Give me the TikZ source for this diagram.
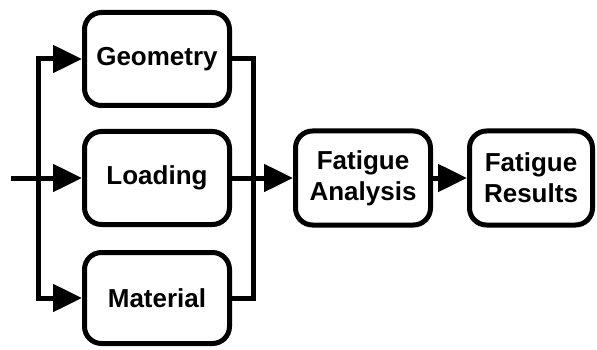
\documentclass[tikz,border=0pt]{standalone}
\usepackage{fontspec}
\setmainfont{Liberation Sans}
\usetikzlibrary{arrows.meta}
\begin{document}
\begin{tikzpicture}[x=1pt,y=-1pt,
  box/.style={draw, line width=5pt, rounded corners=17pt, align=center,
    font=\fontsize{26}{31}\selectfont\bfseries, inner sep=0pt},
  conn/.style={line width=5pt},
  arr/.style={conn, -{Triangle[length=29pt,width=27pt]}}]
\useasboundingbox (0,0) rectangle (597,350);
\node[box, minimum width=145pt, minimum height=93pt] (G) at (157,59) {Geometry};
\node[box, minimum width=145pt, minimum height=93pt] (L) at (157,178) {Loading};
\node[box, minimum width=145pt, minimum height=91pt] (M) at (157,298) {Material};
\node[box, minimum width=135pt, minimum height=94pt] (FA) at (363,178) {Fatigue\\Analysis};
\node[box, minimum width=123pt, minimum height=94pt] (FR) at (531,178) {Fatigue\\Results};
\coordinate (in) at (11,178);
\coordinate (jl) at (38,178);
\coordinate (jr) at (253,178);
\draw[arr] (in) -- (L.west);
\draw[arr] (jl) |- (G.west);
\draw[arr] (jl) |- (M.west);
\draw[conn] (G.east) -| (jr);
\draw[conn] (M.east) -| (jr);
\draw[arr] (L.east) -- (FA.west);
\draw[arr] (FA.east) -- (FR.west);
\end{tikzpicture}
\end{document}
